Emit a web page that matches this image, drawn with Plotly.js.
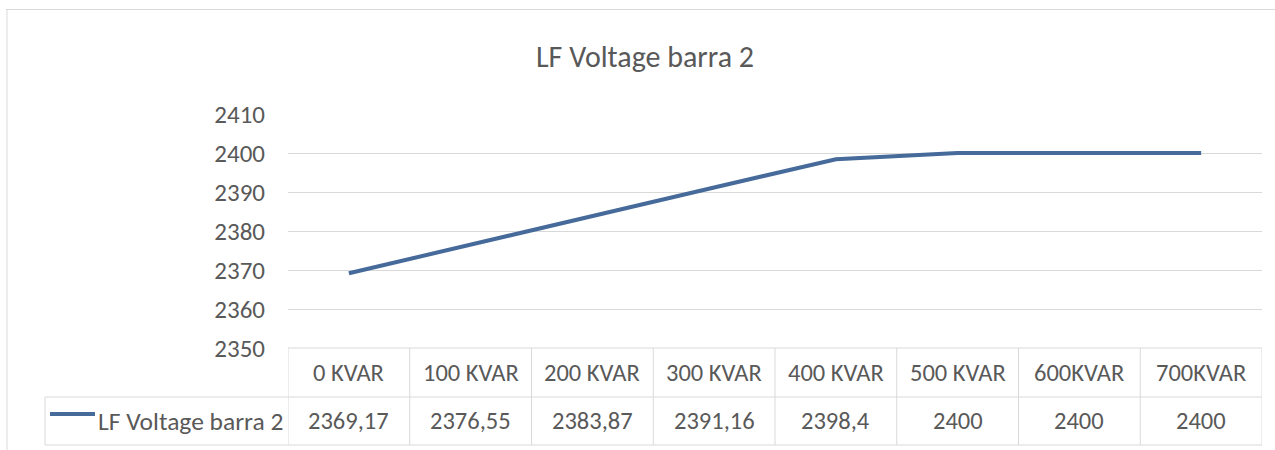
<!DOCTYPE html>
<html>
<head>
<meta charset="utf-8">
<script src="https://cdn.plot.ly/plotly-3.0.1.min.js"></script>
<style>html,body{margin:0;padding:0;background:#fff;}#chart{width:1275px;height:450px;}</style>
</head>
<body>
<div id="chart"></div>
<script>
const categories = ["0 KVAR","100 KVAR","200 KVAR","300 KVAR","400 KVAR","500 KVAR","600KVAR","700KVAR"];
const voltage = [2369.17, 2376.55, 2383.87, 2391.16, 2398.4, 2400, 2400, 2400];
const seriesName = "LF Voltage barra 2";
const chartTitle = "LF Voltage barra 2";
const yTicks = [2350, 2360, 2370, 2380, 2390, 2400, 2410];

const W = 1275, H = 450;
const M = {l: 288, r: 13, t: 114, b: 102};
const PW = W - M.l - M.r, PH = H - M.t - M.b;
const FONT = '"Liberation Sans Narrow", "Arial Narrow", Carlito, Calibri, "Noto Sans", sans-serif';
const GREY = '#595959', LINE = '#d9d9d9', BLUE = '#466a9a';
const px2x = p => (p - M.l) / PW;
const px2y = p => (H - M.b - p) / PH;

const rowTop = 348, rowMid = 397, rowBot = 445, legLeft = 45;
const shapes = [];
const hl = (x0, x1, y) => shapes.push({type:'line', xref:'paper', yref:'paper', x0:px2x(x0), x1:px2x(x1), y0:px2y(y), y1:px2y(y), line:{color:LINE, width:1}});
const vl = (x, y0, y1) => shapes.push({type:'line', xref:'paper', yref:'paper', x0:px2x(x), x1:px2x(x), y0:px2y(y0), y1:px2y(y1), line:{color:LINE, width:1}});
// outer chart border
hl(6, W, 9.5);
vl(7, 9.5, H);
// table grid
hl(M.l, W - M.r, rowTop);
hl(legLeft, W - M.r, rowMid);
hl(legLeft, W - M.r, rowBot);
vl(legLeft, rowMid, rowBot);
categories.forEach((c, i) => {
  shapes.push({type:'line', xref:'x', yref:'paper', x0:i-0.5, x1:i-0.5, y0:px2y(rowTop), y1:px2y(rowBot), line:{color:LINE, width:1}});
});
shapes.push({type:'line', xref:'x', yref:'paper', x0:categories.length-0.5, x1:categories.length-0.5, y0:px2y(rowTop), y1:px2y(rowBot), line:{color:LINE, width:1}});
// legend key line
shapes.push({type:'line', xref:'paper', yref:'paper', x0:px2x(50), x1:px2x(95), y0:px2y(414), y1:px2y(414), line:{color:BLUE, width:4}});

const annotations = [];
categories.forEach((c, i) => {
  annotations.push({x:c, xref:'x', y:px2y((rowTop+rowMid)/2), yref:'paper', text:c, showarrow:false, xanchor:'center', yanchor:'middle', font:{family:FONT, size:24.5, color:GREY}});
  annotations.push({x:c, xref:'x', y:px2y((rowMid+rowBot)/2), yref:'paper', text:String(voltage[i]).replace('.', ','), showarrow:false, xanchor:'center', yanchor:'middle', font:{family:FONT, size:24.5, color:GREY}});
});
annotations.push({x:px2x(96), xref:'paper', y:px2y((rowMid+rowBot)/2), yref:'paper', text:seriesName, showarrow:false, xanchor:'left', yanchor:'middle', font:{family:FONT, size:25.5, color:GREY}});

const trace = {
  x: categories, y: voltage, type:'scatter', mode:'lines', name: seriesName,
  line:{color:BLUE, width:4}, showlegend:false, cliponaxis:false
};

const layout = {
  width: W, height: H,
  margin: M,
  paper_bgcolor:'#fff', plot_bgcolor:'#fff',
  title:{text: chartTitle, x:645/W, xref:'container', xanchor:'center', y:1-56/H, yref:'container', yanchor:'middle', font:{family:FONT, size:30, color:GREY}},
  xaxis:{type:'category', range:[-0.5, categories.length-0.5], showticklabels:false, showgrid:false, zeroline:false, showline:false, ticks:''},
  yaxis:{range:[2350, 2410], tickvals:yTicks, showgrid:true, gridcolor:LINE, gridwidth:1, zeroline:false, showline:false, ticks:'',
         tickfont:{family:FONT, size:25, color:GREY}, ticklabelstandoff:22},
  shapes: shapes,
  annotations: annotations,
  showlegend:false
};

Plotly.newPlot('chart', [trace], layout, {displayModeBar:false, staticPlot:true});
</script>
</body>
</html>
